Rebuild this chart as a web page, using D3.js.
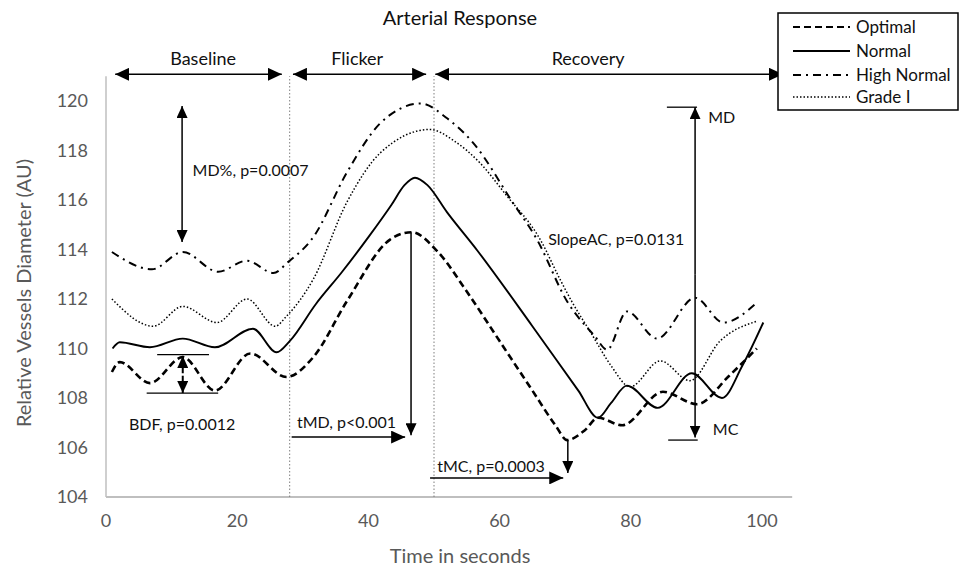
<!DOCTYPE html>
<html lang="en">
<head>
  <meta charset="UTF-8">
  <title>Arterial Response</title>
  <script src="https://d3js.org/d3.v7.min.js"></script>
  <style>
    body { margin: 0; background: #fff; }
    svg text { font-family: Lato, 'Open Sans', sans-serif; }
  </style>
</head>
<body>
  <svg id="chart" width="961" height="575"></svg>
  <script>
    // values: [time (s), diameter (AU)]
    const optimal = [[0.9,109.05],[2.1,109.45],[6.7,108.6],[11.7,109.65],[16.6,108.3],[22,109.8],[27.5,108.85],
      [31.6,109.65],[36.7,111.9],[43.3,114.4],[46.6,114.7],[50.6,113.9],[55,112.3],[60,110.3],[65,108.3],[68.5,106.9],
      [70.3,106.3],[73,106.7],[75,107.2],[78.7,106.9],[84.9,108.25],[90.1,107.75],[95,108.9],[99.2,110.0]];
    const normal = [[1,110.0],[2.1,110.25],[6.7,110.05],[11.7,110.4],[16.6,110.05],[22.4,110.8],[26,109.85],
      [28,110.3],[32,111.8],[36,113.1],[40,114.5],[43.5,115.8],[45.5,116.6],[47.1,116.9],[49,116.6],[52,115.5],
      [56.6,113.96],[65,110.9],[72,108.3],[75,107.2],[77,107.8],[79.4,108.5],[84.1,107.6],[89.3,109.0],[93.9,108.0],
      [97,109.3],[100.2,111.05]];
    const highNormal = [[0.9,113.9],[7,113.2],[11.7,113.9],[17.1,113.1],[21.5,113.55],[25.5,113.05],[27.8,113.5],
      [31.6,114.5],[36.7,117.1],[41.8,119.1],[48,119.9],[52,119.3],[56,118.3],[62,115.9],[65.7,114.4],[70.3,111.9],
      [74.5,110.5],[76.4,109.95],[79.4,111.5],[84,110.4],[89.8,112.05],[94.1,111.05],[99.2,111.85]];
    const gradeI = [[0.9,112.0],[7.2,110.9],[11.7,111.7],[16.9,111.05],[21.5,112.0],[25.8,110.9],[27.5,111.3],
      [31.6,112.8],[36.7,115.9],[41.8,117.9],[49.4,118.85],[53,118.4],[57,117.5],[61,116.2],[66.2,114.4],[69.2,112.8],
      [71,111.9],[74,110.6],[77,109.3],[79.9,108.45],[84.5,109.5],[89,108.7],[93.6,110.3],[99.2,111.1]];

    const seriesNames = ['Optimal', 'Normal', 'High Normal', 'Grade I'];
    const seriesData = [optimal, normal, highNormal, gradeI];

    const xTicks = [0, 20, 40, 60, 80, 100];
    const yTicks = [104, 106, 108, 110, 112, 114, 116, 118, 120];

    const phaseNames = ['Baseline', 'Flicker', 'Recovery'];
    const phaseSpans = [[1.4, 26.8], [28.5, 48.8], [50.2, 103.2]];
    const phaseLabelAt = [14.8, 38.3, 73.5];
    const phaseBounds = [28, 50];

    // line styles per series
    const styles = {
      'Optimal':     { width: 2.6, dash: '7,4' },
      'Normal':      { width: 1.9, dash: null },
      'High Normal': { width: 2, dash: '8,5,2,5' },
      'Grade I':     { width: 1.5, dash: '1.5,2' }
    };

    const svg = d3.select('#chart');
    const x = d3.scaleLinear().domain([0, 100]).range([106, 762]);
    const y = d3.scaleLinear().domain([104, 120]).range([497, 101]);

    // arrow heads
    const defs = svg.append('defs');
    const mk = (id, len, wid) => {
      defs.append('marker')
        .attr('id', id)
        .attr('markerUnits', 'userSpaceOnUse')
        .attr('viewBox', `0 ${-wid / 2} ${len} ${wid}`)
        .attr('refX', len).attr('refY', 0)
        .attr('markerWidth', len).attr('markerHeight', wid)
        .attr('orient', 'auto-start-reverse')
        .append('path')
        .attr('d', `M0,${-wid / 2}L${len},0L0,${wid / 2}Z`)
        .attr('fill', '#000');
    };
    mk('big', 14, 13);
    mk('mid', 12, 11);

    // axes
    svg.append('line')
      .attr('x1', x(0)).attr('x2', x(0))
      .attr('y1', y(104)).attr('y2', y(121))
      .attr('stroke', '#bfbfbf').attr('stroke-width', 1.5);
    svg.append('line')
      .attr('x1', x(0)).attr('x2', x(104.6))
      .attr('y1', y(104)).attr('y2', y(104))
      .attr('stroke', '#bfbfbf').attr('stroke-width', 2);

    svg.append('g').selectAll('text')
      .data(yTicks).enter().append('text')
      .attr('x', 88).attr('y', d => y(d)).attr('dy', '0.35em')
      .attr('text-anchor', 'end')
      .attr('fill', '#595959').attr('font-size', 18)
      .text(d => d);

    svg.append('g').selectAll('text')
      .data(xTicks).enter().append('text')
      .attr('x', d => x(d)).attr('y', 521).attr('dy', '0.35em')
      .attr('text-anchor', 'middle')
      .attr('fill', '#595959').attr('font-size', 18)
      .text(d => d);

    svg.append('text')
      .attr('x', 460).attr('y', 556).attr('dy', '0.35em')
      .attr('text-anchor', 'middle').attr('fill', '#595959').attr('font-size', 20)
      .text('Time in seconds');

    svg.append('text')
      .attr('transform', 'translate(24,293) rotate(-90)')
      .attr('dy', '0.35em')
      .attr('text-anchor', 'middle').attr('fill', '#595959').attr('font-size', 20)
      .text('Relative Vessels Diameter (AU)');

    svg.append('text')
      .attr('x', 460).attr('y', 18).attr('dy', '0.35em')
      .attr('text-anchor', 'middle').attr('fill', '#111').attr('font-size', 20)
      .text('Arterial Response');

    // phase boundaries
    svg.append('g').selectAll('line')
      .data(phaseBounds).enter().append('line')
      .attr('x1', d => x(d)).attr('x2', d => x(d))
      .attr('y1', y(104)).attr('y2', y(121))
      .attr('stroke', '#7f7f7f').attr('stroke-width', 1).attr('stroke-dasharray', '1.5,2');

    const ph = svg.append('g');
    ph.selectAll('line')
      .data(phaseSpans).enter().append('line')
      .attr('x1', d => x(d[0])).attr('x2', d => x(d[1]))
      .attr('y1', y(121.08)).attr('y2', y(121.08))
      .attr('stroke', '#000').attr('stroke-width', 1.5)
      .attr('marker-start', 'url(#big)').attr('marker-end', 'url(#big)');
    ph.selectAll('text')
      .data(phaseNames).enter().append('text')
      .attr('x', (d, i) => x(phaseLabelAt[i]))
      .attr('y', y(121.7)).attr('dy', '0.35em')
      .attr('text-anchor', 'middle').attr('font-size', 18).attr('fill', '#111')
      .text(d => d);

    // curves
    const line = d3.line().x(d => x(d[0])).y(d => y(d[1])).curve(d3.curveMonotoneX);
    svg.append('g').selectAll('path')
      .data(seriesData).enter().append('path')
      .attr('d', line)
      .attr('fill', 'none').attr('stroke', '#000')
      .attr('stroke-width', (d, i) => styles[seriesNames[i]].width)
      .attr('stroke-dasharray', (d, i) => styles[seriesNames[i]].dash);

    // annotations
    const ann = svg.append('g');
    const arrow = (t1, v1, t2, v2, both, m, w) => ann.append('line')
      .attr('x1', x(t1)).attr('y1', y(v1)).attr('x2', x(t2)).attr('y2', y(v2))
      .attr('stroke', '#000').attr('stroke-width', w || 1.5)
      .attr('marker-start', both ? `url(#${m})` : null)
      .attr('marker-end', `url(#${m})`);
    const hline = (t1, t2, v) => ann.append('line')
      .attr('x1', x(t1)).attr('x2', x(t2)).attr('y1', y(v)).attr('y2', y(v))
      .attr('stroke', '#000').attr('stroke-width', 1.3);
    const label = (t, v, s) => ann.append('text')
      .attr('x', x(t)).attr('y', y(v)).attr('dy', '0.35em')
      .attr('font-size', 16).attr('fill', '#111').text(s);

    // MD%
    arrow(11.6, 119.8, 11.6, 114.3, true, 'mid');
    label(13.2, 117.2, 'MD%, p=0.0007');

    // BDF
    hline(7.8, 15.7, 109.75);
    hline(6.2, 17.1, 108.2);
    arrow(11.7, 109.0, 11.7, 109.7, false, 'mid', 2);
    arrow(11.7, 108.9, 11.7, 108.2, false, 'mid', 2);
    label(3.5, 106.95, 'BDF, p=0.0012');

    // tMD
    arrow(46.5, 114.7, 46.5, 106.5, false, 'mid');
    arrow(28.3, 106.42, 45.6, 106.42, false, 'big');
    label(29.1, 107.0, 'tMD, p<0.001');

    // tMC
    arrow(70.4, 106.3, 70.4, 104.97, false, 'mid');
    arrow(49.4, 104.77, 69.7, 104.77, false, 'big');
    label(50.5, 105.25, 'tMC, p=0.0003');

    // MD / MC
    arrow(89.8, 113, 89.8, 119.75, false, 'mid');
    arrow(89.8, 113, 89.8, 106.4, false, 'mid');
    hline(85.5, 90.1, 119.75);
    hline(85.7, 90.2, 106.3);
    label(91.8, 119.35, 'MD');
    label(92.5, 106.75, 'MC');

    label(67.4, 114.4, 'SlopeAC, p=0.0131');

    // legend
    const lg = svg.append('g');
    lg.append('rect')
      .attr('x', 778).attr('y', 13).attr('width', 180).attr('height', 97)
      .attr('fill', '#fff').attr('stroke', '#000').attr('stroke-width', 1.5);
    const lgY = [27, 51, 75, 97];
    const item = lg.selectAll('g.item').data(seriesNames).enter().append('g')
      .attr('transform', (d, i) => `translate(0,${lgY[i]})`);
    item.append('line')
      .attr('x1', 793).attr('x2', 850)
      .attr('stroke', '#000')
      .attr('stroke-width', d => Math.min(styles[d].width, 2.2))
      .attr('stroke-dasharray', d => styles[d].dash);
    item.append('text')
      .attr('x', 856).attr('dy', '0.35em')
      .attr('font-size', 17).attr('fill', '#111')
      .text(d => d);
  </script>
</body>
</html>
